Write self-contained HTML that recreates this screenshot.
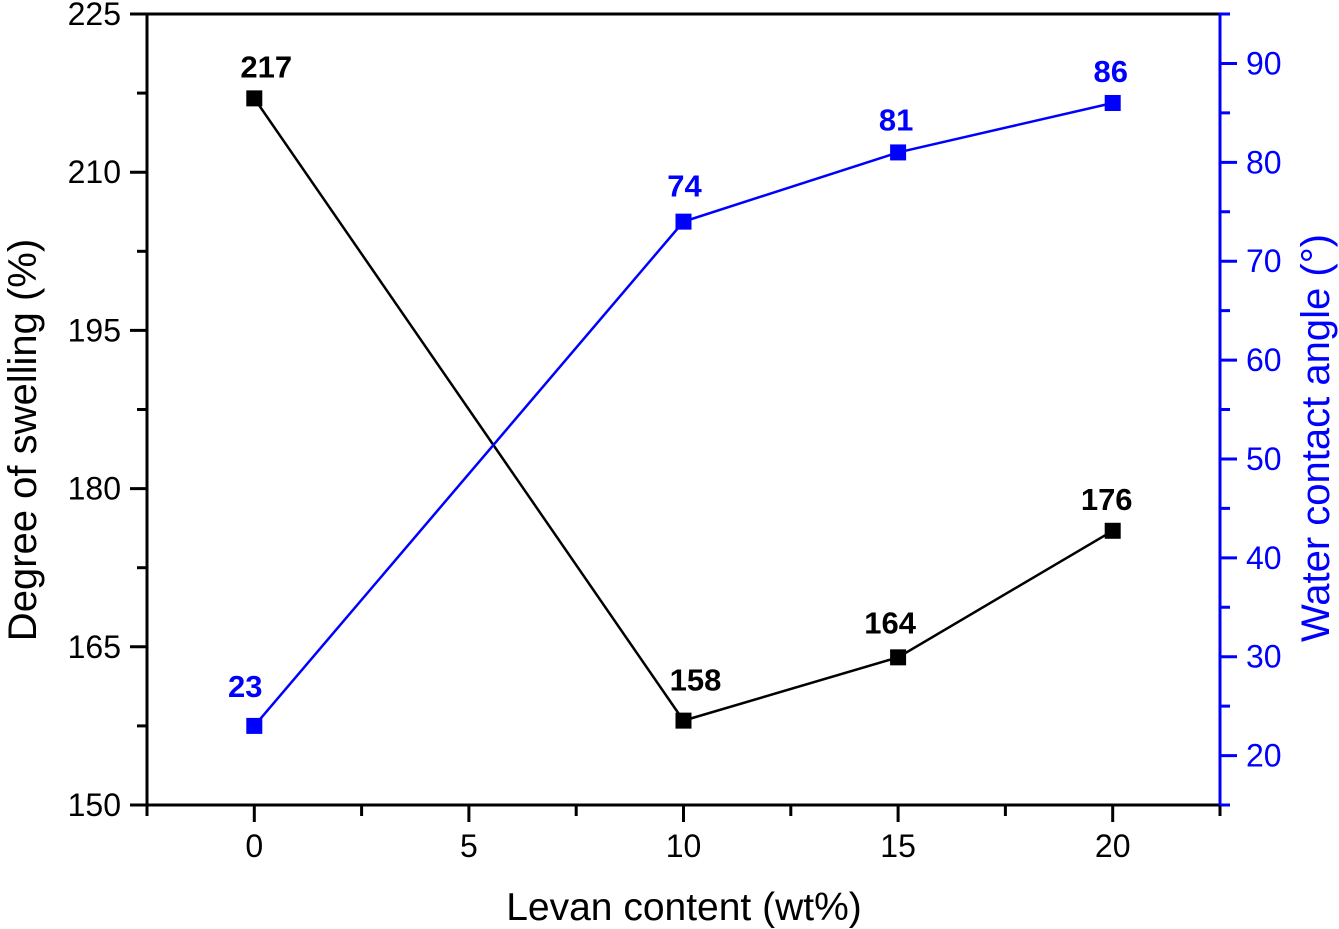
<!DOCTYPE html>
<html><head><meta charset="utf-8"><style>
html,body{margin:0;padding:0;background:#fff;}
svg{display:block;font-family:"Liberation Sans",Arial,sans-serif;}
</style></head><body>
<svg id="chart" width="1339" height="929" viewBox="0 0 1339 929"></svg>
<script>
const categories=[0,10,15,20];
const swelling=[217,158,164,176];
const contactAngle=[23,74,81,86];
const xTicks=[0,5,10,15,20];
const leftTicks=[150,165,180,195,210,225];
const rightTicks=[20,30,40,50,60,70,80,90];

const L=147,R=1220,T=14,B=805;
const xs=v=>L+(v+2.5)/25*(R-L);
const yl=v=>B-(v-150)/75*(B-T);
const yr=v=>B-(v-15)/80*(B-T);
const svg=document.getElementById('chart');
const NS='http://www.w3.org/2000/svg';
function el(tag,attrs,parent){const e=document.createElementNS(NS,tag);for(const k in attrs)e.setAttribute(k,attrs[k]);(parent||svg).appendChild(e);return e;}
function txt(s,attrs,parent){const e=el('text',attrs,parent);e.textContent=s;return e;}

const frame=el('g',{});


el('line',{x1:L,y1:T,x2:R,y2:T,stroke:'#000','stroke-width':3},frame);
el('line',{x1:L,y1:T,x2:L,y2:B+1,stroke:'#000','stroke-width':3},frame);
el('line',{x1:L-1,y1:B,x2:R,y2:B,stroke:'#000','stroke-width':3},frame);
el('line',{x1:R,y1:T-1,x2:R,y2:B+1,stroke:'#0000ff','stroke-width':3},frame);

const xa=el('g',{});


for(let v=-2.5;v<=22.5001;v+=2.5){const major=Math.abs(v%5)<1e-6;el('line',{x1:xs(v),y1:B,x2:xs(v),y2:B+(major?17:11),stroke:'#000','stroke-width':3},xa);}
xTicks.forEach(v=>{const t=txt(String(v),{x:xs(v),y:857,'text-anchor':'middle','font-size':32,fill:'#000'},xa);});
const xt=txt('Levan content (wt%)',{x:684,y:920,'text-anchor':'middle','font-size':39,fill:'#000'});



const la=el('g',{});


for(let v=150;v<=225.001;v+=7.5){const major=Math.abs((v-150)%15)<1e-6;el('line',{x1:L,y1:yl(v),x2:L-(major?17:10),y2:yl(v),stroke:'#000','stroke-width':3},la);}
leftTicks.forEach(v=>{const t=txt(String(v),{x:121,y:yl(v)+11,'text-anchor':'end','font-size':32,fill:'#000'},la);});
const lt=txt('Degree of swelling (%)',{x:0,y:0,'text-anchor':'middle','font-size':40,fill:'#000',transform:'translate(36,440) rotate(-90)'});



const ra=el('g',{});


for(let v=15;v<=95;v+=5){const major=v%10===0;el('line',{x1:R,y1:yr(v),x2:R+(major?17:10),y2:yr(v),stroke:'#0000ff','stroke-width':3},ra);}
rightTicks.forEach(v=>{const t=txt(String(v),{x:1246,y:yr(v)+11,'text-anchor':'start','font-size':32,fill:'#0000ff'},ra);});
const rt=txt('Water contact angle (°)',{x:0,y:0,'text-anchor':'middle','font-size':40,fill:'#0000ff',transform:'translate(1329,438) rotate(-90)'});



function series(vals,yf,color,name,labelDy){
  const g=el('g',{});
  
  
  el('polyline',{points:categories.map((c,i)=>xs(c)+','+yf(vals[i])).join(' '),fill:'none',stroke:color,'stroke-width':2.5},g);
  categories.forEach((c,i)=>{
    const m=el('rect',{x:xs(c)-8,y:yf(vals[i])-8,width:16,height:16,fill:color},g);
    
    
    const t=txt(String(vals[i]),{x:xs(c)+(labelDy[i][0]),y:yf(vals[i])+labelDy[i][1],'text-anchor':'middle','font-size':31,'font-weight':'bold',fill:color},g);
    
    
  });
}
series(swelling,yl,'#000','swelling-series',[[12,-21],[12,-30],[-8,-24],[-6,-21]]);
series(contactAngle,yr,'#0000ff','contact-angle-series',[[-9,-29],[1,-25],[-2,-22],[-2,-21]]);
</script>
</body></html>
